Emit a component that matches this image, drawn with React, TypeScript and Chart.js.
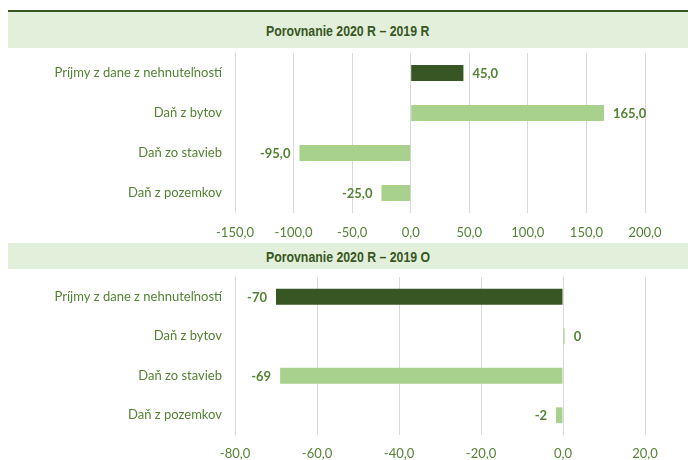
import React, { useEffect, useRef } from "react";
import { Chart, registerables } from "chart.js";

Chart.register(...registerables);

const categories = [
  "Príjmy z dane z nehnuteľností",
  "Daň z bytov",
  "Daň zo stavieb",
  "Daň z pozemkov",
];
const valuesR = [45, 165, -95, -25];
const valuesO = [-70, 0.4, -69, -1.7];
const titleR = "Porovnanie 2020 R – 2019 R";
const titleO = "Porovnanie 2020 R – 2019 O";

const DARK = "#375623";
const LIGHT = "#A9D18E";
const TEXT = "#548235";
const LABEL_FONT = "Lato, 'Open Sans', sans-serif";

const barColors = [DARK, LIGHT, LIGHT, LIGHT];

function makeLabelPlugin(decimals: number) {
  return {
    id: "valueLabels",
    afterDatasetsDraw(chart: any) {
      const ctx = chart.ctx;
      const meta = chart.getDatasetMeta(0);
      const data = chart.data.datasets[0].data as number[];
      ctx.save();
      ctx.font = `bold 13px ${LABEL_FONT}`;
      ctx.fillStyle = TEXT;
      ctx.textBaseline = "middle";
      meta.data.forEach((bar: any, i: number) => {
        const v = data[i];
        const txt = v.toFixed(decimals).replace(".", ",").replace(/^-0$/, "0");
        if (v >= 0) {
          ctx.textAlign = "left";
          ctx.fillText(txt, bar.x + 9, bar.y + 1);
        } else {
          ctx.textAlign = "right";
          ctx.fillText(txt, bar.x - 9, bar.y + 1);
        }
      });
      ctx.restore();
    },
  };
}

function BarPanel(props: {
  values: number[];
  min: number;
  max: number;
  step: number;
  decimals: number;
  height: number;
  topPad: number;
  xAxisHeight: number;
  tickPad: number;
}) {
  const ref = useRef<HTMLCanvasElement>(null);
  useEffect(() => {
    if (!ref.current) return;
    const chart = new Chart(ref.current, {
      type: "bar",
      data: {
        labels: categories,
        datasets: [
          {
            data: props.values,
            backgroundColor: barColors,
            borderWidth: 0,
            categoryPercentage: 1,
            barPercentage: 0.4,
          },
        ],
      },
      options: {
        indexAxis: "y",
        animation: false,
        responsive: false,
        maintainAspectRatio: false,
        layout: { padding: { left: 0, right: 43, top: props.topPad, bottom: 0 } },
        plugins: {
          legend: { display: false },
          tooltip: { enabled: false },
        },
        scales: {
          x: {
            min: props.min,
            max: props.max,
            border: { display: false },
            grid: { color: "#D9D9D9", lineWidth: 1, drawTicks: false },
            ticks: {
              stepSize: props.step,
              color: TEXT,
              padding: props.tickPad,
              font: { family: LABEL_FONT, size: 13 },
              callback: (v: any) => Number(v).toFixed(1).replace(".", ","),
            },
            afterFit: (s: any) => {
              s.height = props.xAxisHeight;
              s.paddingLeft = 0;
              s.paddingRight = 0;
            },
          },
          y: {
            border: { display: false },
            grid: { display: false, drawTicks: false },
            ticks: {
              color: TEXT,
              padding: 13,
              font: { family: LABEL_FONT, size: 13 },
            },
            afterFit: (s: any) => {
              s.width = 235;
              s.paddingTop = 0;
              s.paddingBottom = 0;
            },
          },
        },
      },
      plugins: [makeLabelPlugin(props.decimals)],
    });
    return () => chart.destroy();
  }, []);
  return (
    <canvas
      ref={ref}
      width={688}
      height={props.height}
      style={{ display: "block", width: 688, height: props.height }}
    />
  );
}

const bandStyle: React.CSSProperties = {
  position: "absolute",
  left: 8,
  width: 680,
  background: "#E2EFDA",
  display: "flex",
  alignItems: "center",
  justifyContent: "center",
};

const titleText: React.CSSProperties = {
  color: DARK,
  fontFamily: "'Liberation Sans', Arial, sans-serif",
  fontWeight: "bold",
  fontSize: 15,
  display: "inline-block",
  transform: "scaleX(0.82)",
  whiteSpace: "nowrap",
};

export default function App() {
  return (
    <div
      style={{
        position: "absolute",
        left: 0,
        top: 0,
        width: 688,
        height: 460,
        background: "#FFFFFF",
        overflow: "hidden",
      }}
    >
      <div style={{ position: "absolute", left: 8, top: 10, width: 680, height: 2, background: DARK }} />
      <div style={{ ...bandStyle, top: 12, height: 36 }}>
        <span style={titleText}>{titleR}</span>
      </div>
      <div style={{ position: "absolute", left: 0, top: 48 }}>
        <BarPanel
          values={valuesR}
          min={-150}
          max={200}
          step={50}
          decimals={1}
          height={195}
          topPad={5}
          xAxisHeight={30}
          tickPad={12}
        />
      </div>
      <div style={{ ...bandStyle, top: 243, height: 26 }}>
        <span style={titleText}>{titleO}</span>
      </div>
      <div style={{ position: "absolute", left: 0, top: 269 }}>
        <BarPanel
          values={valuesO}
          min={-80}
          max={20}
          step={20}
          decimals={0}
          height={191}
          topPad={8}
          xAxisHeight={25}
          tickPad={11}
        />
      </div>
    </div>
  );
}
